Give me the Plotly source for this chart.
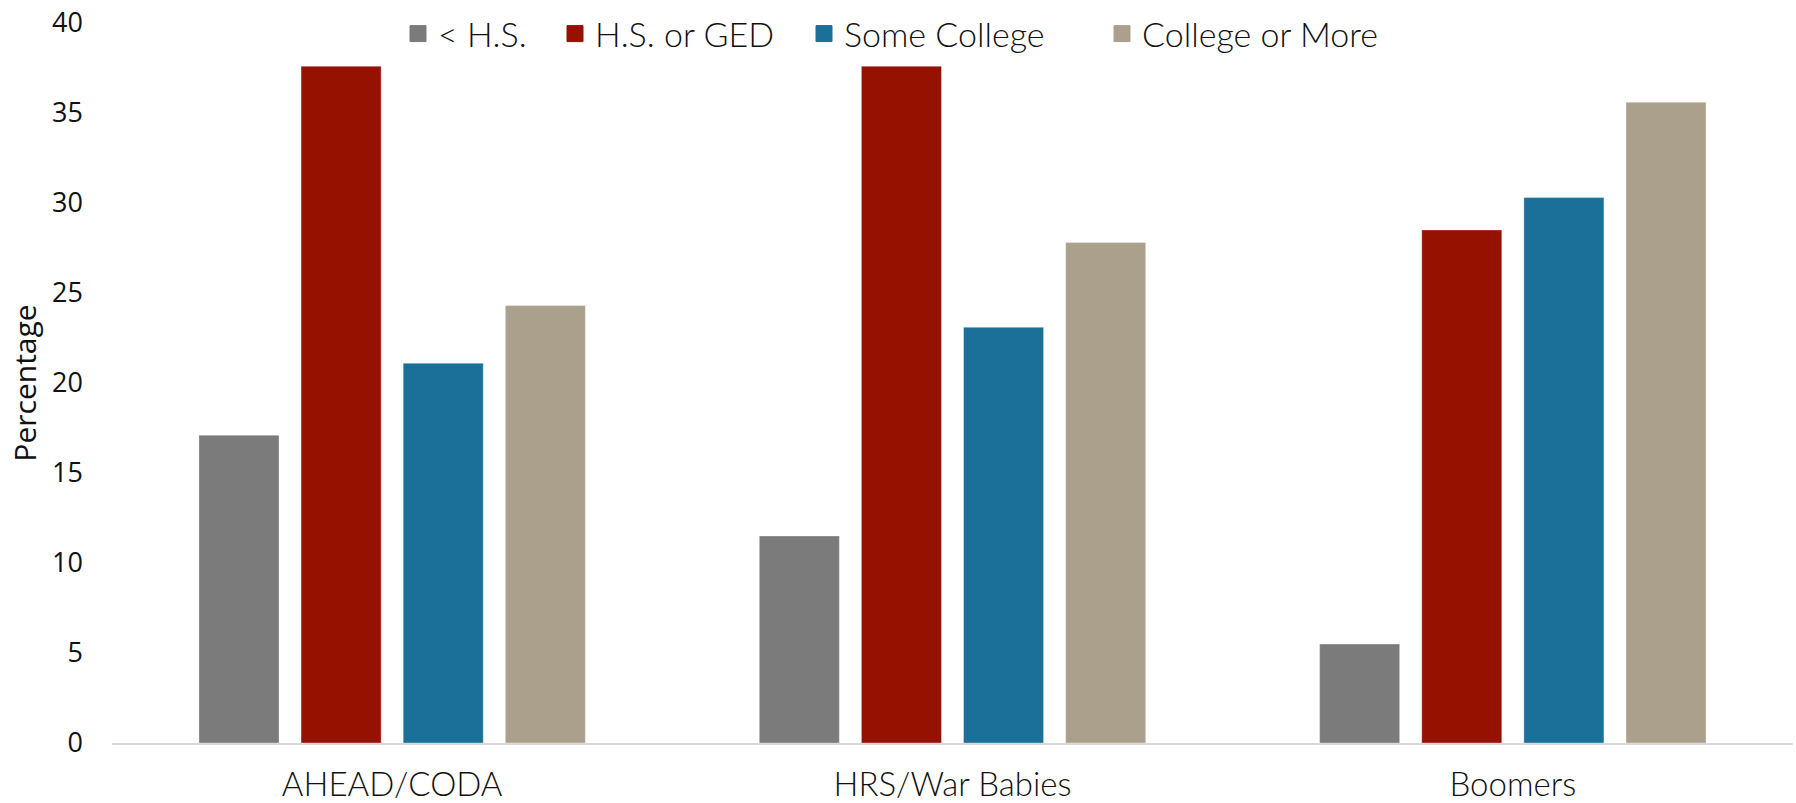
import plotly.graph_objects as go

# Cohorts on the x axis
cohorts = ["AHEAD/CODA", "HRS/War Babies", "Boomers"]

# Share of each cohort by education level (percent)
less_than_hs = [17.1, 11.5, 5.5]
hs_or_ged = [37.6, 37.6, 28.5]
some_college = [21.1, 23.1, 30.3]
college_or_more = [24.3, 27.8, 35.6]

series_names = ["< H.S.", "H.S. or GED", "Some College", "College or More"]
series_values = [less_than_hs, hs_or_ged, some_college, college_or_more]
series_colors = ["#7b7b7b", "#951100", "#1a7099", "#aba08c"]

y_ticks = [0, 5, 10, 15, 20, 25, 30, 35, 40]

W, H = 1796, 803
M_L, M_R, M_T, M_B = 112, 3, 23, 60
plot_w = W - M_L - M_R
plot_h = H - M_T - M_B

label_font = "Lato, 'Noto Sans', sans-serif"
axis_font = "'Open Sans', Roboto, sans-serif"
text_color = "#111111"

fig = go.Figure()

for name, vals, color in zip(series_names, series_values, series_colors):
    fig.add_trace(go.Bar(
        x=cohorts,
        y=vals,
        name=name,
        marker=dict(color=color, line=dict(color="rgba(255,255,255,0.35)", width=1)),
        showlegend=False,
    ))

# Legend entries: one small legend per series, laid out in a row above the bars
legend_marker_px = [418, 575, 824, 1122]
layout_legends = {}
for i, (name, color, cx) in enumerate(zip(series_names, series_colors, legend_marker_px)):
    key = "legend" if i == 0 else f"legend{i + 1}"
    fig.add_trace(go.Scatter(
        x=[None], y=[None], mode="markers", name=name,
        marker=dict(symbol="square", size=16, color=color,
                    line=dict(color=color, width=1)),
        legend=key, showlegend=True, hoverinfo="skip",
    ))
    layout_legends[key] = dict(
        x=(cx - 20 - M_L) / plot_w,
        xanchor="left",
        y=(H - M_B - 34) / plot_h,
        yanchor="middle",
        orientation="h",
        bgcolor="rgba(0,0,0,0)",
        borderwidth=0,
        font=dict(family=label_font, size=34, weight=300, color=text_color),
        itemclick=False,
        itemdoubleclick=False,
    )

fig.update_layout(
    width=W,
    height=H,
    margin=dict(l=M_L, r=M_R, t=M_T, b=M_B, pad=0),
    paper_bgcolor="white",
    plot_bgcolor="white",
    barmode="group",
    bargap=0.271,
    bargroupgap=0.216,
    xaxis=dict(
        automargin=False,
        showline=True,
        linecolor="#d9d9d9",
        linewidth=2,
        showgrid=False,
        ticks="",
        tickfont=dict(family=label_font, size=33, weight=300, color=text_color),
        ticklabelstandoff=11,
    ),
    yaxis=dict(
        automargin=False,
        range=[0, 40],
        tickvals=y_ticks,
        showgrid=False,
        zeroline=False,
        showline=False,
        ticks="",
        tickfont=dict(family=axis_font, size=27, color=text_color),
        ticklabelstandoff=28,
        title=dict(text="Percentage", font=dict(family=axis_font, size=30, color=text_color), standoff=6),
    ),
    **layout_legends,
)

fig.write_html("out.html")
